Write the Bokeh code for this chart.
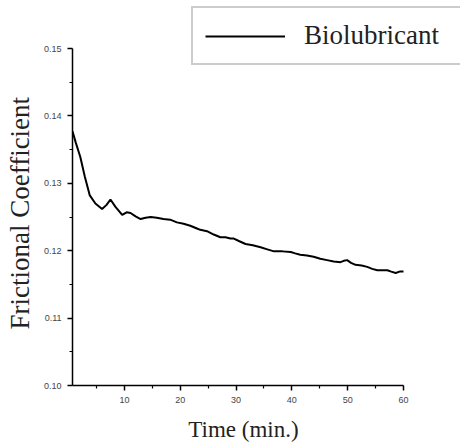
from bokeh.plotting import figure
from bokeh.models import Range1d, FixedTicker, Legend, LegendItem, CustomJSTickFormatter
from bokeh.embed import file_html
from bokeh.resources import INLINE

time_min = [0.7, 1.3, 2.1, 2.9, 3.8, 4.8, 6.0, 6.8, 7.5, 8.4, 9.6, 10.4, 11.1, 12.0,
            12.9, 13.8, 14.7, 15.8, 17.0, 18.2, 19.4, 20.6, 21.8, 23.0, 23.6, 24.8,
            26.0, 27.2, 28.1, 29.0, 29.6, 30.6, 31.7, 33.0, 34.4, 35.6, 36.8, 38.3,
            39.8, 40.6, 41.5, 42.7, 43.9, 45.1, 46.3, 47.5, 48.7, 49.3, 49.9, 50.6,
            51.4, 52.5, 53.5, 54.4, 55.3, 56.2, 57.1, 57.8, 58.6, 59.3, 60.0]
friction = [0.1377, 0.1360, 0.1339, 0.1310, 0.1282, 0.1270, 0.1262, 0.1268, 0.1276,
            0.1265, 0.1253, 0.1257, 0.1256, 0.1251, 0.1247, 0.1249, 0.1250, 0.1249,
            0.1247, 0.1246, 0.1242, 0.1240, 0.1237, 0.1233, 0.1231, 0.1229, 0.1224,
            0.1220, 0.1220, 0.1218, 0.1218, 0.1214, 0.1210, 0.1208, 0.1205, 0.1202,
            0.1199, 0.1199, 0.1198, 0.1196, 0.1194, 0.1193, 0.1191, 0.1188, 0.1186,
            0.1184, 0.1183, 0.1185, 0.1186, 0.1182, 0.1179, 0.1178, 0.1176, 0.1173,
            0.1171, 0.1171, 0.1171, 0.1169, 0.1167, 0.1169, 0.1169]

x_ticks = [10, 20, 30, 40, 50, 60]
x_minor = [5, 15, 25, 35, 45, 55]
y_ticks = [0.10, 0.11, 0.12, 0.13, 0.14, 0.15]
y_minor = [0.105, 0.115, 0.125, 0.135, 0.145]
series_name = "Biolubricant"
x_title = "Time (min.)"
y_title = "Frictional Coefficient"

p = figure(width=460, height=445, output_backend="svg", toolbar_location=None,
           title_location=None,
           x_range=Range1d(0.7, 70.21), y_range=Range1d(0.10, 0.157122),
           min_border_left=72, min_border_right=0, min_border_top=0, min_border_bottom=60)
p.outline_line_color = None
p.grid.visible = False

r = p.line(time_min, friction, line_color="black", line_width=2)

for ax in (p.xaxis[0], p.yaxis[0]):
    ax.axis_line_color = "black"
    ax.axis_line_width = 1.5
    ax.major_tick_line_color = "black"
    ax.minor_tick_line_color = "black"
    ax.major_tick_line_width = 1.5
    ax.minor_tick_line_width = 1.2
    ax.major_tick_in = 0
    ax.major_tick_out = 5
    ax.minor_tick_in = 0
    ax.minor_tick_out = 3
    ax.major_label_text_font = "Liberation Sans"
    ax.major_label_text_font_size = "9px"
    ax.major_label_text_color = "#444444"
    ax.axis_label_text_font = "Liberation Serif"
    ax.axis_label_text_font_style = "normal"
    ax.axis_label_text_color = "#222222"

p.xaxis.ticker = FixedTicker(ticks=x_ticks, minor_ticks=x_minor)
p.yaxis.ticker = FixedTicker(ticks=y_ticks, minor_ticks=y_minor)
p.xaxis.bounds = (0.7, 60)
p.yaxis.bounds = (0.10, 0.15)
p.yaxis.formatter = CustomJSTickFormatter(code="return tick.toFixed(2);")
# trailing no-break spaces shift the centred titles toward the plotted axis span
p.xaxis.axis_label = x_title + "\u00a0" * 8
p.yaxis.axis_label = y_title + "\u00a0" * 6
p.xaxis.axis_label_text_font_size = "23px"
p.yaxis.axis_label_text_font_size = "27px"
p.xaxis.major_label_standoff = 6
p.xaxis.axis_label_standoff = 11
p.yaxis.major_label_standoff = 6
p.yaxis.axis_label_standoff = 6

legend = Legend(items=[LegendItem(label=series_name, renderers=[r])],
                location=(119, 320), orientation="vertical",
                label_text_font="Liberation Serif", label_text_font_size="27px",
                label_text_color="#222222", label_width=175,
                glyph_width=80, glyph_height=26, label_standoff=19, padding=12,
                border_line_color="#999999", border_line_width=2,
                background_fill_color="white", background_fill_alpha=1.0,
                margin=0, spacing=0)
p.add_layout(legend, "center")

open("out.html", "w").write(file_html(p, INLINE))
